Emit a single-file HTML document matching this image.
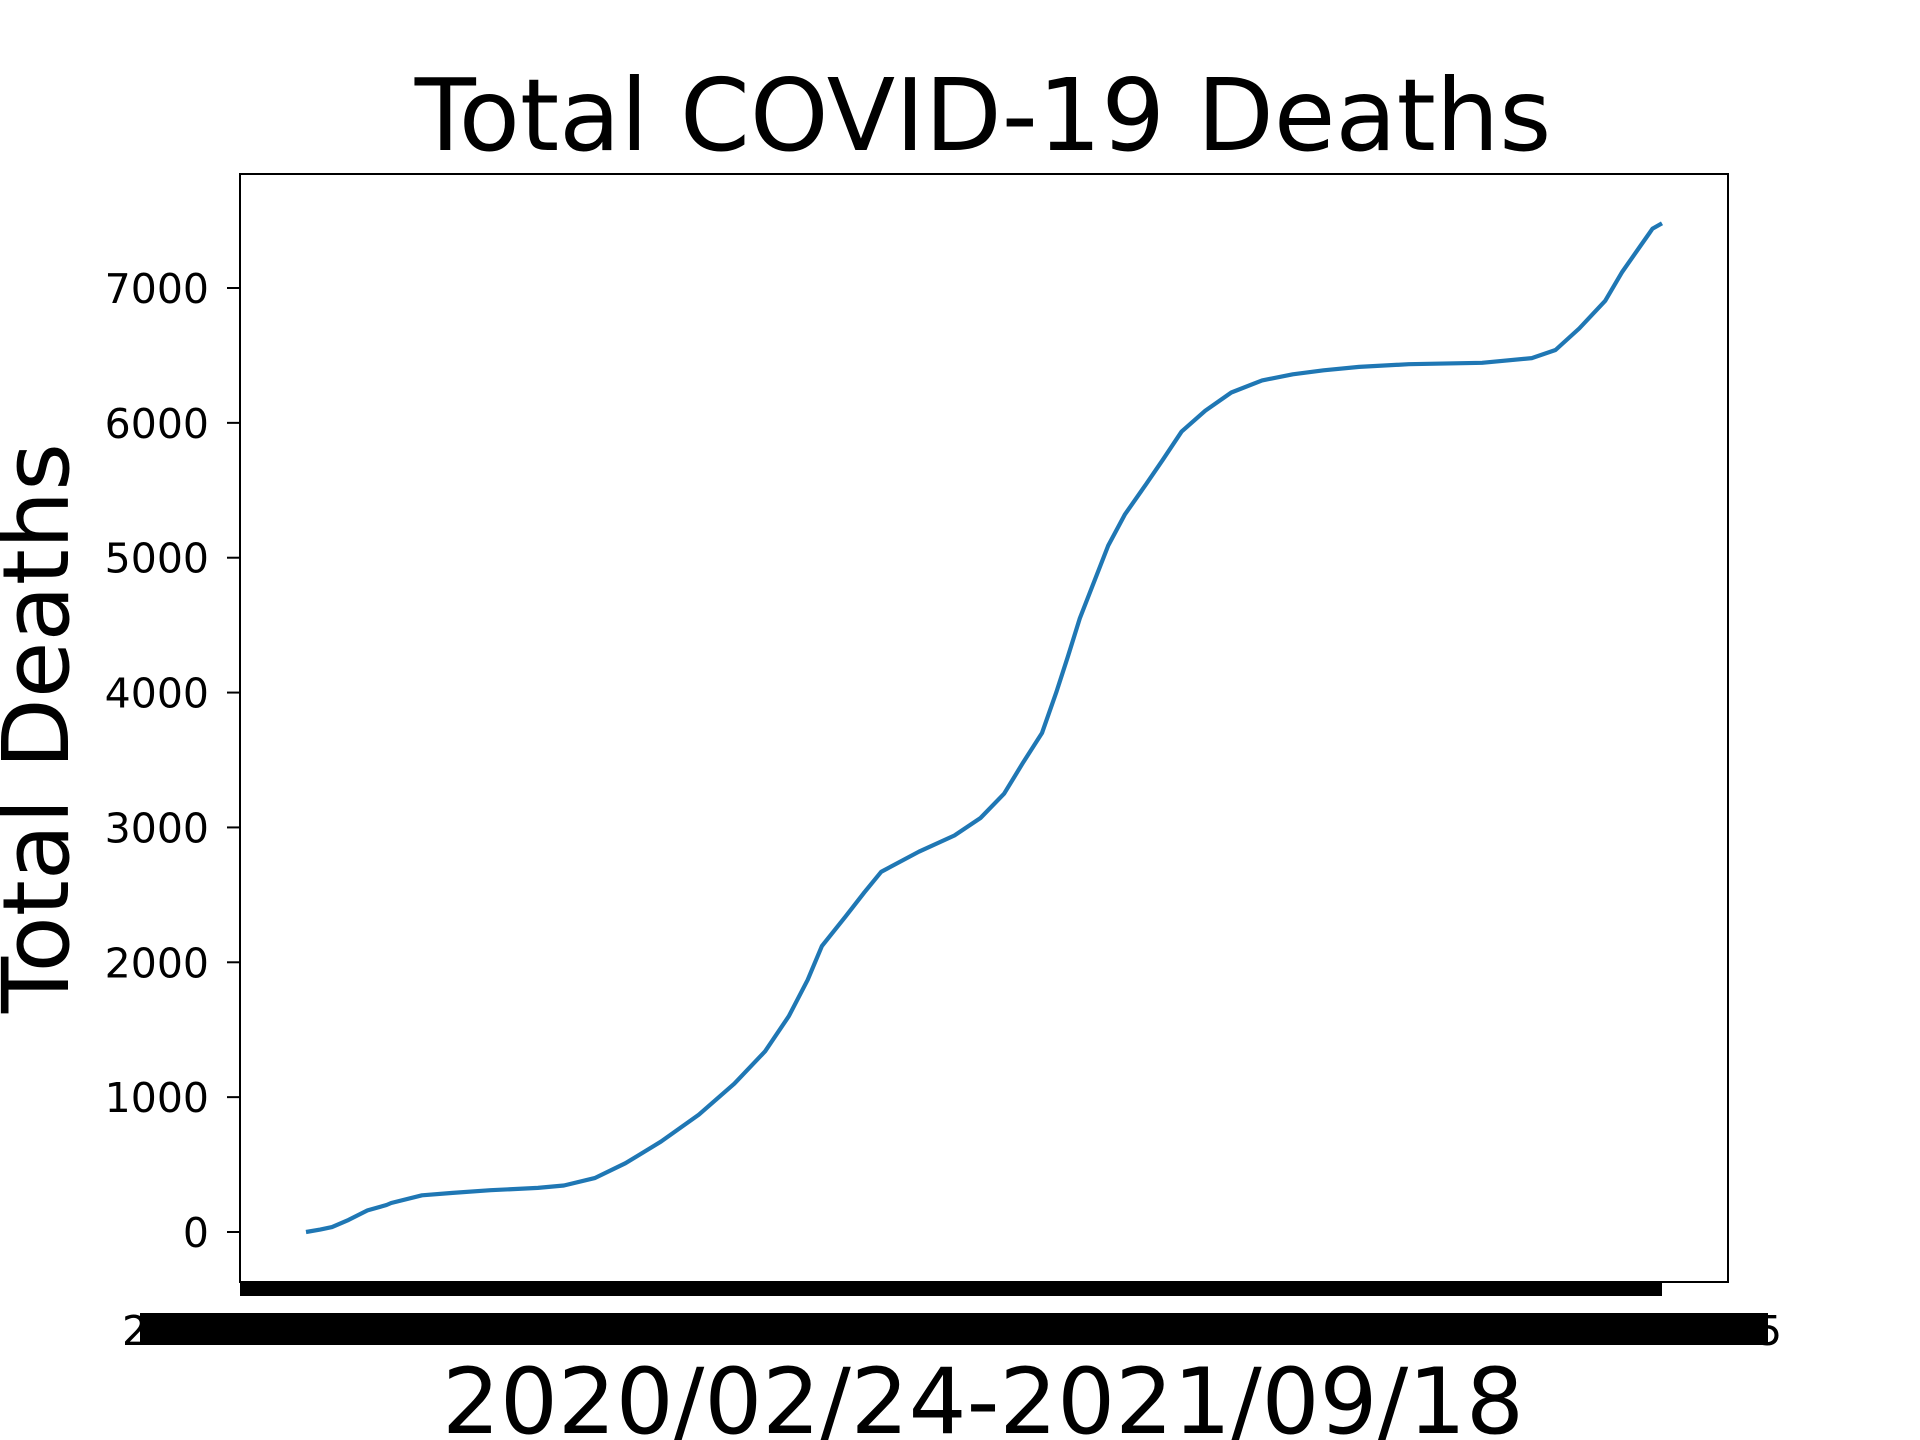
<!DOCTYPE html>
<html><head><meta charset="utf-8"><style>
html,body{margin:0;padding:0;background:#fff;}
svg{display:block;font-family:"DejaVu Sans","Liberation Sans",sans-serif;}
</style></head><body>
<svg id="chart" width="1920" height="1440" viewBox="0 0 1920 1440">
<rect x="0" y="0" width="1920" height="1440" fill="#fff"/>
<text x="983" y="150" font-size="100" text-anchor="middle">Total COVID-19 Deaths</text>
<text transform="translate(68,728) rotate(-90)" font-size="92" text-anchor="middle">Total Deaths</text>
<text x="983" y="1433" font-size="91" text-anchor="middle">2020/02/24-2021/09/18</text>
<g id="yticks"></g>
<rect x="240" y="1282" width="1422" height="14" fill="#000"/>
<rect x="140" y="1313" width="1628" height="32" fill="#000"/>
<text x="122" y="1345" font-size="41">2</text>
<text x="1756" y="1345" font-size="41">5</text>
<path id="line" fill="none" stroke="#1f77b4" stroke-width="4.2" stroke-linejoin="round"/>
<rect x="240" y="174" width="1488" height="1108" fill="none" stroke="#000" stroke-width="2"/>
</svg>
<script>
const days = [0,6,11,18,26,34,36,49,62,78,98,109,122,135,150,166,181,194,204,212,218,228,236,243,259,274,285,295,303,311,317,322,327,333,339,346,355,362,370,380,391,404,417,430,445,466,497,518,528,538,549,556,564,569,573];
const deaths = [0,18,36,90,160,200,215,272,290,310,327,345,400,510,670,870,1100,1340,1600,1870,2120,2340,2520,2670,2820,2940,3070,3250,3480,3700,4000,4270,4550,4820,5090,5320,5545,5725,5935,6090,6225,6315,6360,6390,6415,6435,6445,6480,6540,6700,6905,7115,7315,7440,7480];
const yTicks = [0,1000,2000,3000,4000,5000,6000,7000];
const totalDays = 573;
function xPx(d){return 306 + d/totalDays*(1662-306);}
function yPx(v){return 1232 - v/7000*(1232-288);}
const ns="http://www.w3.org/2000/svg";
let dstr="";
for(let i=0;i<days.length;i++){dstr+=(i?"L":"M")+xPx(days[i]).toFixed(1)+","+yPx(deaths[i]).toFixed(1);}
document.getElementById("line").setAttribute("d",dstr);
const g=document.getElementById("yticks");
yTicks.forEach(v=>{
  const y=yPx(v);
  const l=document.createElementNS(ns,"line");
  l.setAttribute("x1",227);l.setAttribute("x2",240);l.setAttribute("y1",y);l.setAttribute("y2",y);
  l.setAttribute("stroke","#000");l.setAttribute("stroke-width","2");
  
  
  g.appendChild(l);
  const t=document.createElementNS(ns,"text");
  t.setAttribute("x",209);t.setAttribute("y",y+15);t.setAttribute("font-size","41");t.setAttribute("text-anchor","end");
  t.textContent=v;
  
  
  g.appendChild(t);
});
</script>
</body></html>
